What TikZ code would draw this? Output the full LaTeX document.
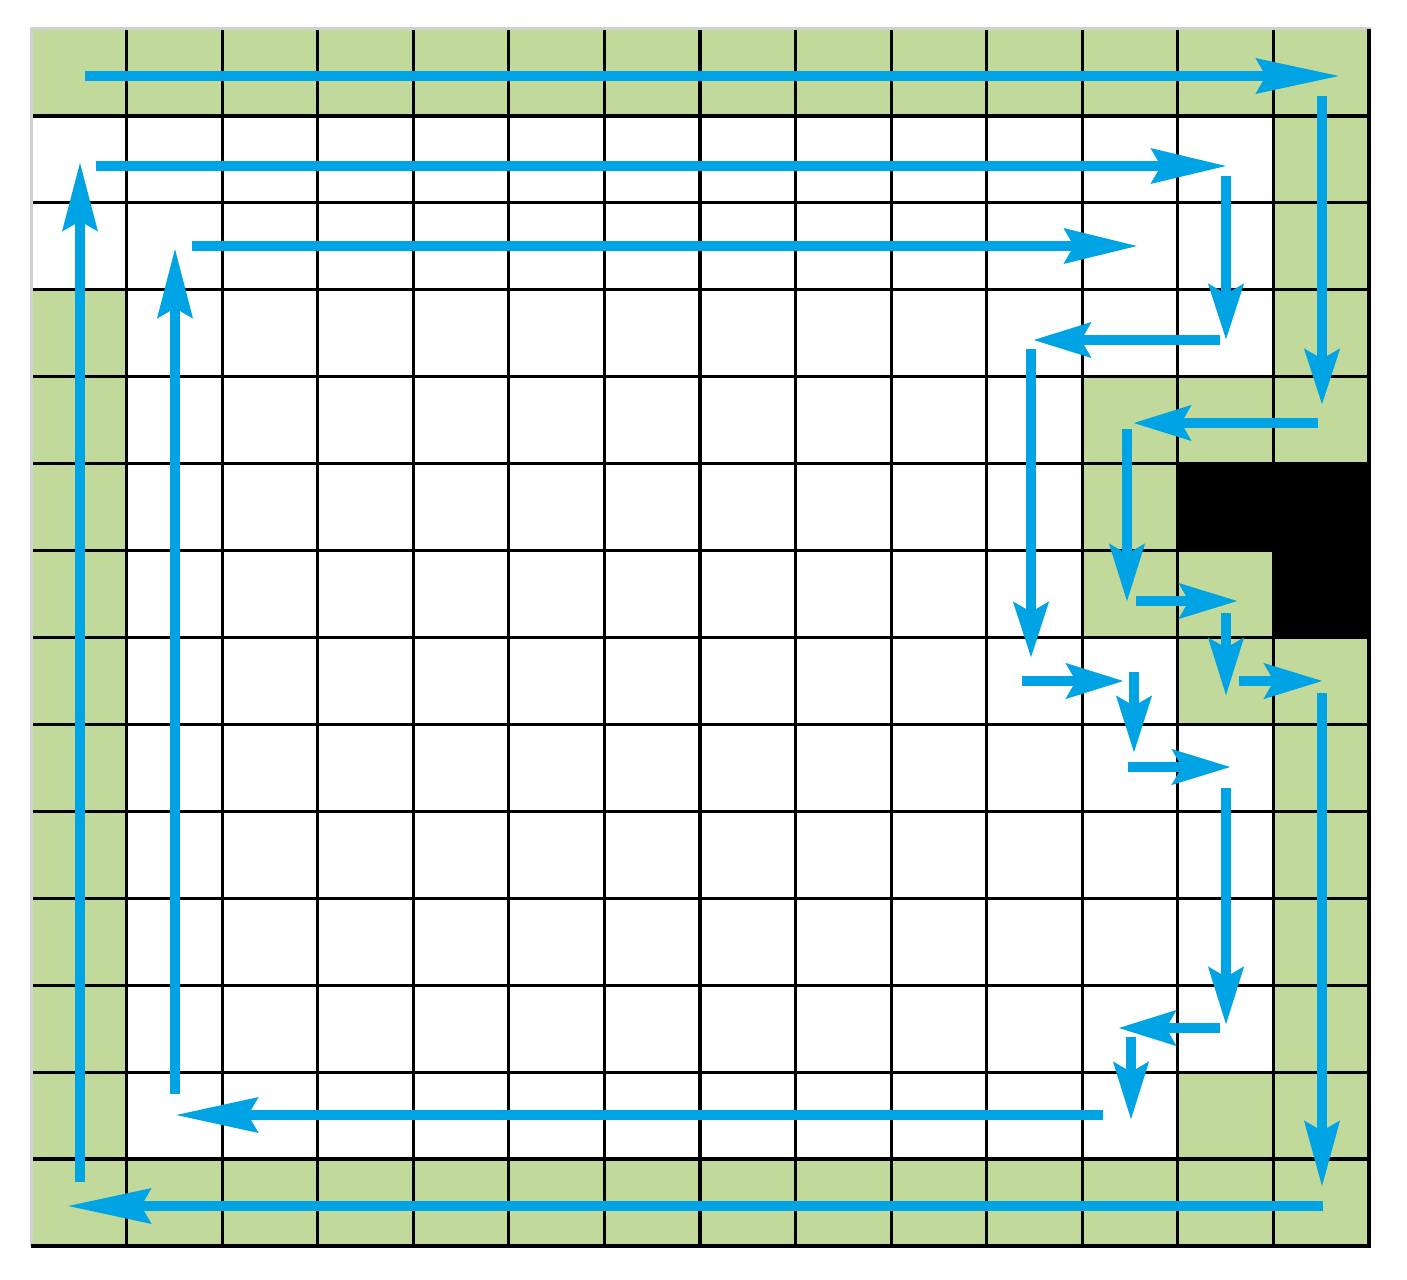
\documentclass[tikz,border=0pt]{standalone}
\usetikzlibrary{arrows.meta}
\definecolor{cellgreen}{RGB}{193,217,155}
\definecolor{flowblue}{RGB}{0,163,228}
\definecolor{framegray}{RGB}{208,208,208}
\tikzset{
  gridline/.style={draw=black, line width=3.2pt},
  flow/.style={draw=flowblue, line width=10.5pt, -{Stealth[length=#1,width=34pt,inset=9pt]}}
}
\begin{document}
\begin{tikzpicture}[x=1pt,y=-1pt]
\useasboundingbox (0,0) rectangle (1407,1279);
\fill[white] (0,0) rectangle (1407,1279);
\begin{scope}[shift={(31pt,-29pt)},x=95.571pt,y=-86.929pt]
  % green cells
  \fill[cellgreen] (0,0) rectangle (14,1);
  \fill[cellgreen] (0,3) rectangle (1,14);
  \fill[cellgreen] (0,13) rectangle (14,14);
  \fill[cellgreen] (13,0) rectangle (14,5);
  \fill[cellgreen] (13,7) rectangle (14,14);
  \fill[cellgreen] (11,4) rectangle (13,5);
  \fill[cellgreen] (11,5) rectangle (12,7);
  \fill[cellgreen] (12,6) rectangle (13,8);
  \fill[cellgreen] (12,12) rectangle (13,14);
  % grid lines
  \foreach \i in {1,...,13} {
    \draw[gridline] (\i,0) -- (\i,14);
    \draw[gridline] (0,\i) -- (14,\i);
  }
  % obstacle
  \fill[black] (12,5) rectangle (14.02,6);
  \fill[black] (13,6) rectangle (14.02,7);
  % frame
  \draw[framegray, line width=3pt] (0,14) -- (0,0) -- (14.02,0);
  \draw[black, line width=4pt] (14,0) -- (14,14) -- (0,14);
\end{scope}
% flow arrows
\draw[flow=83pt] (85,76) -- (1340,76);
\draw[flow=55pt] (1322,96) -- (1322,405);
\draw[flow=57pt] (1318,423) -- (1133,423);
\draw[flow=57pt] (1127,429) -- (1127,602);
\draw[flow=58pt] (1136,601) -- (1238,601);
\draw[flow=57pt] (1226,613) -- (1226,696);
\draw[flow=58pt] (1239,681) -- (1323,681);
\draw[flow=65pt] (1322,693) -- (1322,1187);
\draw[flow=83pt] (1323,1206) -- (67,1206);
\draw[flow=68pt] (80,1182) -- (80,162);
\draw[flow=75pt] (96,166) -- (1227,166);
\draw[flow=55pt] (1226,176) -- (1226,340);
\draw[flow=57pt] (1220,340) -- (1033,340);
\draw[flow=55pt] (1031,349) -- (1031,658);
\draw[flow=57pt] (1022,681) -- (1124,681);
\draw[flow=56pt] (1134,672) -- (1134,753);
\draw[flow=58pt] (1128,767) -- (1231,767);
\draw[flow=57pt] (1226,788) -- (1226,1025);
\draw[flow=57pt] (1220,1028) -- (1118,1028);
\draw[flow=57pt] (1131,1037) -- (1131,1120);
\draw[flow=82pt] (1103,1115) -- (175,1115);
\draw[flow=69pt] (175,1094) -- (175,248);
\draw[flow=73pt] (192,246) -- (1138,246);
\end{tikzpicture}
\end{document}
